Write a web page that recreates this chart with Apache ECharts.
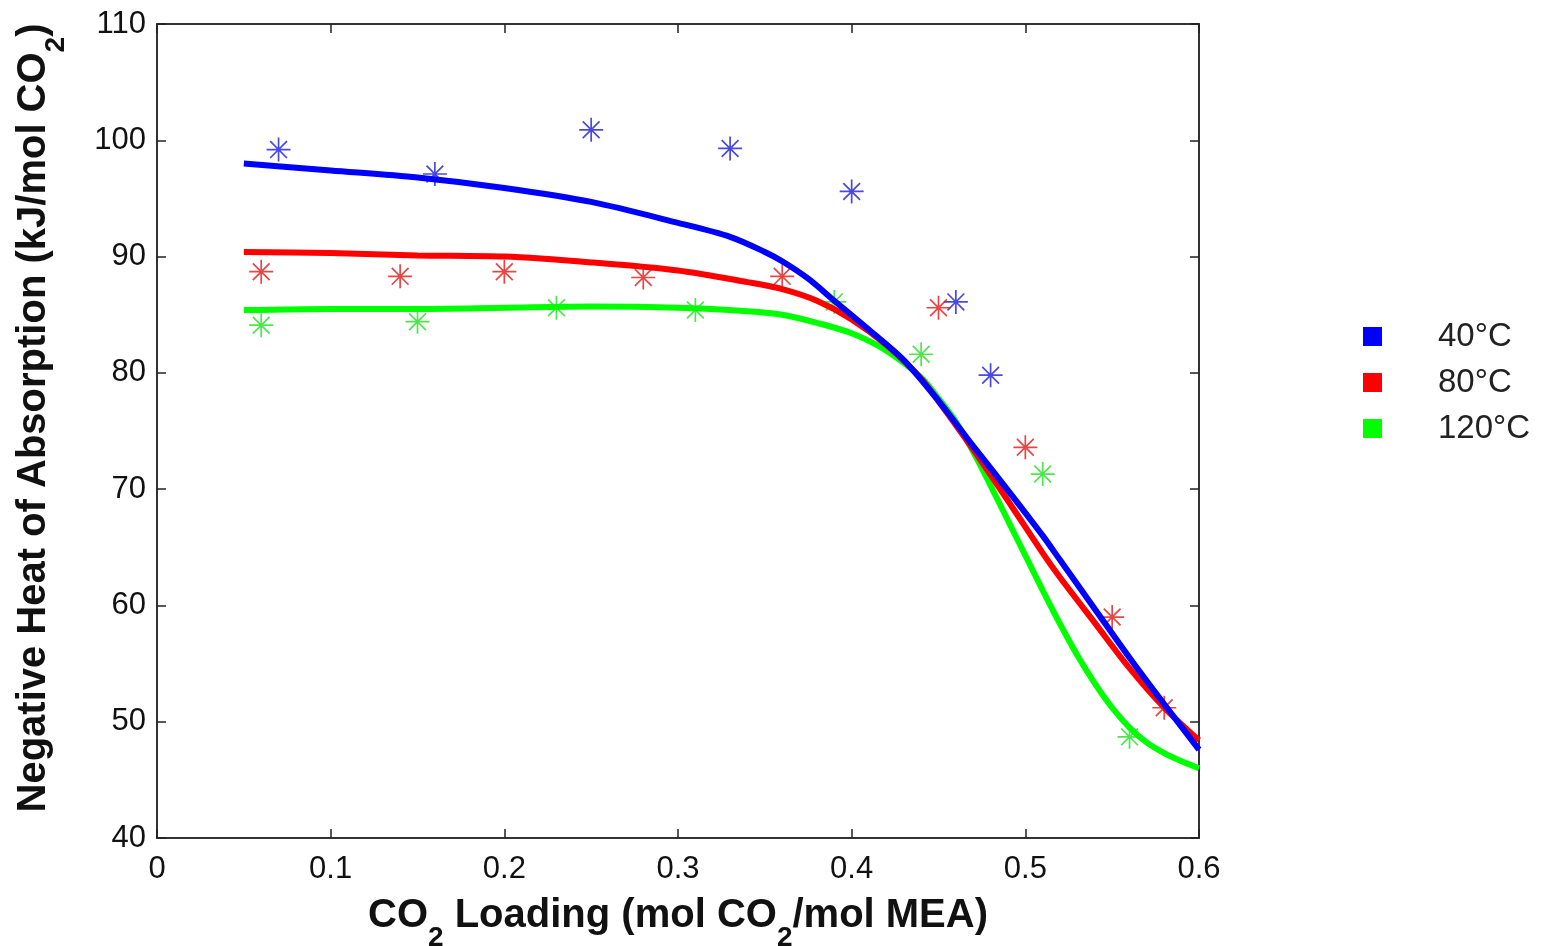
<!DOCTYPE html>
<html>
<head>
<meta charset="utf-8">
<script src="https://cdn.jsdelivr.net/npm/echarts@6/dist/echarts.min.js"></script>
<style>
html,body{margin:0;padding:0;background:#fff;overflow:hidden;}
#chart{width:1547px;height:946px;}
</style>
</head>
<body>
<div id="chart"></div>
<script>
// Legend / series names
const seriesNames = ['40°C', '80°C', '120°C'];
const seriesColors = ['#0000ff', '#ff0000', '#00ff00'];
const markerColors = ['#1c1cd8', '#e01818', '#20e020'];

// Measured data points (asterisks)
const data40x = [0.07, 0.16, 0.25, 0.33, 0.40, 0.46, 0.48];
const data40y = [99.2, 97.1, 100.9, 99.3, 95.6, 86.1, 79.8];
const data80x = [0.06, 0.14, 0.20, 0.28, 0.36, 0.45, 0.50, 0.55, 0.58];
const data80y = [88.7, 88.3, 88.7, 88.2, 88.3, 85.6, 73.6, 59.0, 51.2];
const data120x = [0.06, 0.15, 0.23, 0.31, 0.39, 0.44, 0.51, 0.56];
const data120y = [84.1, 84.4, 85.6, 85.4, 86.1, 81.6, 71.3, 48.7];

// Model curves (solid lines)
const fit40x = [0.05, 0.10, 0.15, 0.20, 0.25, 0.30, 0.33, 0.35, 0.36, 0.375, 0.39, 0.41, 0.43, 0.45, 0.47, 0.49, 0.51, 0.52, 0.54, 0.56, 0.58, 0.60];
const fit40y = [98.0, 97.4, 96.8, 95.9, 94.7, 92.9, 91.7, 90.4, 89.6, 88.1, 86.2, 83.7, 81.1, 77.6, 73.7, 69.9, 66.0, 63.9, 59.7, 55.5, 51.5, 47.6];
const fit80x = [0.05, 0.10, 0.15, 0.20, 0.25, 0.30, 0.34, 0.36, 0.38, 0.40, 0.42, 0.44, 0.46, 0.47, 0.49, 0.51, 0.52, 0.54, 0.56, 0.58, 0.60];
const fit80y = [90.4, 90.3, 90.1, 90.0, 89.5, 88.8, 87.8, 87.2, 86.2, 84.6, 82.4, 79.5, 75.5, 73.4, 69.0, 64.5, 62.4, 58.5, 54.6, 51.2, 48.4];
const fit120x = [0.05, 0.10, 0.15, 0.20, 0.25, 0.30, 0.34, 0.36, 0.38, 0.40, 0.42, 0.44, 0.45, 0.46, 0.47, 0.48, 0.49, 0.50, 0.51, 0.52, 0.53, 0.54, 0.55, 0.56, 0.57, 0.58, 0.59, 0.60];
const fit120y = [85.4, 85.5, 85.5, 85.6, 85.7, 85.6, 85.3, 85.0, 84.3, 83.4, 81.9, 79.6, 77.8, 75.8, 73.2, 70.3, 67.3, 64.3, 61.3, 58.4, 55.7, 53.3, 51.2, 49.5, 48.2, 47.3, 46.6, 46.0];

// Axis settings
const xMin = 0, xMax = 0.6, xStep = 0.1;
const yMin = 40, yMax = 110, yStep = 10;

const zip = (xs, ys) => xs.map((x, i) => [x, ys[i]]);
const asterisk = 'path://M10,0L10,20M0,10L20,10M3,3L17,17M3,17L17,3';
const FONT = '"Liberation Sans", Arial, sans-serif';

const dataSets = [[data40x, data40y], [data80x, data80y], [data120x, data120y]];
const fitSets = [[fit40x, fit40y], [fit80x, fit80y], [fit120x, fit120y]];

const series = [];
dataSets.forEach((d, i) => {
  series.push({
    name: seriesNames[i] + ' data',
    type: 'scatter',
    data: zip(d[0], d[1]),
    symbol: asterisk,
    symbolSize: 24,
    itemStyle: { color: 'rgba(0,0,0,0)', borderColor: markerColors[i], borderWidth: 1.7 },
    z: 2,
    silent: true
  });
});
[2, 1, 0].forEach(i => {
  series.push({
    name: seriesNames[i],
    type: 'line',
    data: zip(fitSets[i][0], fitSets[i][1]),
    showSymbol: false,
    smooth: 0.3,
    lineStyle: { color: seriesColors[i], width: 6 },
    itemStyle: { color: seriesColors[i] },
    z: 3,
    silent: true
  });
});

const axisLine = { show: true, onZero: false, lineStyle: { color: '#333', width: 2 } };
const axisTickIn = { show: true, inside: true, length: 9, lineStyle: { color: '#222', width: 1.5 } };
const richTitle = {
  n: { fontFamily: FONT, fontSize: 40, fontWeight: 'bold', color: '#111', verticalAlign: 'top', lineHeight: 40 },
  s: { fontFamily: FONT, fontSize: 28, fontWeight: 'bold', color: '#111', verticalAlign: 'bottom', lineHeight: 56 }
};

const option = {
  backgroundColor: '#fff',
  animation: false,
  grid: { left: 157, right: 348, top: 24, bottom: 108, containLabel: false, outerBoundsMode: 'none' },
  legend: {
    orient: 'vertical',
    left: 1358,
    top: 315,
    padding: 5,
    itemWidth: 19,
    itemHeight: 19,
    itemGap: 13,
    selectedMode: false,
    textStyle: { fontFamily: FONT, fontSize: 33, color: '#222', padding: [0, 0, 0, 51] },
    data: seriesNames.map((n, i) => ({ name: n, icon: 'rect', itemStyle: { color: seriesColors[i], borderWidth: 0 } }))
  },
  xAxis: [
    {
      type: 'value', min: xMin, max: xMax, interval: xStep, position: 'bottom',
      axisLine: axisLine, axisTick: axisTickIn, splitLine: { show: false },
      axisLabel: { fontFamily: FONT, fontSize: 31, color: '#111', margin: 16, formatter: v => (v === 0 ? '0' : v.toFixed(1)) },
      name: '{n|CO}{s|2}{n| Loading (mol CO}{s|2}{n|/mol MEA)}',
      nameLocation: 'middle', nameGap: 58,
      nameTextStyle: { rich: richTitle }
    },
    {
      type: 'value', min: xMin, max: xMax, interval: xStep, position: 'top',
      axisLine: axisLine, axisTick: axisTickIn, axisLabel: { show: false }, splitLine: { show: false }
    }
  ],
  yAxis: [
    {
      type: 'value', min: yMin, max: yMax, interval: yStep, position: 'left',
      axisLine: axisLine, axisTick: axisTickIn, splitLine: { show: false },
      axisLabel: { fontFamily: FONT, fontSize: 31, color: '#111', margin: 11 },
      name: '{n|Negative Heat of Absorption (kJ/mol CO}{s|2}{n|)}',
      nameLocation: 'middle', nameGap: 87, nameRotate: 90,
      nameTextStyle: { rich: richTitle, padding: [0, 0, 0, 26] }
    },
    {
      type: 'value', min: yMin, max: yMax, interval: yStep, position: 'right',
      axisLine: axisLine, axisTick: axisTickIn, axisLabel: { show: false }, splitLine: { show: false }
    }
  ],
  series: series
};

const chart = echarts.init(document.getElementById('chart'), null, { renderer: 'canvas' });
chart.setOption(option);
</script>
</body>
</html>
